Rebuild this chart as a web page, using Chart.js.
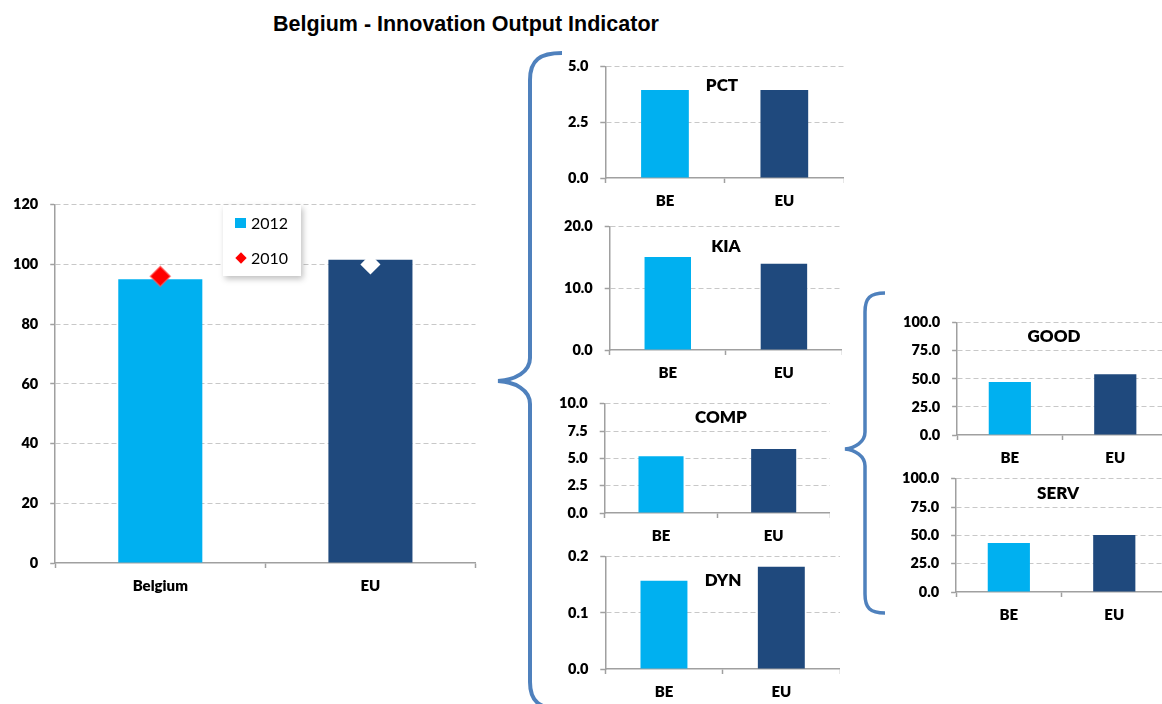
<!DOCTYPE html>
<html>
<head>
<meta charset="utf-8">
<script src="https://cdn.jsdelivr.net/npm/chart.js@4.4.0/dist/chart.umd.min.js"></script>
<style>
  body { margin: 0; width: 1162px; height: 704px; overflow: hidden; background: #fff; position: relative; font-family: Lato, sans-serif; }
  canvas { position: absolute; }
  #title { position: absolute; left: 0; width: 932px; top: 12px; line-height: 24px; text-align: center; font: bold 21.5px "Liberation Sans", Arial, sans-serif; color: #000; }
  .panelTitle { position: absolute; transform: translate(-50%, -50%); font: 800 17px Lato, sans-serif; line-height: 1; color: #000; white-space: nowrap; }
  #legend { position: absolute; left: 223px; top: 205px; width: 78px; height: 71px; background: #fff; box-shadow: 2px 3px 6px rgba(0,0,0,0.25); z-index: 5; }
  .legItem { position: absolute; left: 12px; font: 16px Lato, sans-serif; color: #000; line-height: 1; }
  .legItem span { position: absolute; left: 16px; top: -8px; }
  #braces { position: absolute; left: 0; top: 0; }
</style>
</head>
<body>
<div id="title">Belgium - Innovation Output Indicator</div>

<svg id="braces" width="1162" height="704">
  <path d="M 562 53 C 540 53, 530 60, 530 80 L 530 358 C 530 372, 515 380, 498 381 C 515 382, 530 390, 530 404 L 530 682 C 530 702, 540 709, 562 709" fill="none" stroke="#4F81BD" stroke-width="4"/>
  <path d="M 885 293 C 870 293, 865 298, 865 312 L 865 432 C 865 442, 855 448, 845 449 C 855 450, 865 456, 865 466 L 865 594 C 865 608, 870 613, 885 613" fill="none" stroke="#4F81BD" stroke-width="3.5"/>
</svg>

<canvas id="mainChart"></canvas>
<canvas id="pctChart"></canvas>
<canvas id="kiaChart"></canvas>
<canvas id="compChart"></canvas>
<canvas id="dynChart"></canvas>
<canvas id="goodChart"></canvas>
<canvas id="servChart"></canvas>

<div id="legend">
  <div class="legItem" style="top:18px"><div style="position:absolute;left:0;top:-5px;width:11px;height:10px;background:#00B0F0"></div><span>2012</span></div>
  <div class="legItem" style="top:53px"><div style="position:absolute;left:2px;top:-4px;width:8px;height:8px;background:#FF0000;transform:rotate(45deg)"></div><span>2010</span></div>
</div>

<div class="panelTitle" style="left:722px;top:84px">PCT</div>
<div class="panelTitle" style="left:726px;top:245px">KIA</div>
<div class="panelTitle" style="left:721px;top:416px">COMP</div>
<div class="panelTitle" style="left:723px;top:579px">DYN</div>
<div class="panelTitle" style="left:1054px;top:335px">GOOD</div>
<div class="panelTitle" style="left:1058px;top:492px">SERV</div>

<script>
// main chart
const mainCategories = ["Belgium", "EU"];
const main2012 = [95, 101.6];
const main2010 = [96, 100];
const mainTicks = [0, 20, 40, 60, 80, 100, 120];

// small panels
const panelCategories = ["BE", "EU"];
const pctValues = [3.95, 3.95];
const kiaValues = [15.1, 14.0];
const compValues = [5.2, 5.85];
const dynValues = [0.157, 0.182];
const goodValues = [47.2, 54.0];
const servValues = [43.2, 50.3];

const pctTicks = [0, 2.5, 5];
const kiaTicks = [0, 10, 20];
const compTicks = [0, 2.5, 5, 7.5, 10];
const dynTicks = [0, 0.1, 0.2];
const goodTicks = [0, 25, 50, 75, 100];
const servTicks = [0, 25, 50, 75, 100];

const LIGHT = "#00B0F0";
const DARK = "#1F497D";
const AXIS = "#A0A0A0";
const GRID = "#C8C8C8";

Chart.defaults.font.family = "Lato, sans-serif";
Chart.defaults.font.weight = "800";
Chart.defaults.font.size = 14;
Chart.defaults.color = "#000";
Chart.defaults.animation = false;

function setCanvas(canvas, left, top, w, h) {
  w = Math.round(w); h = Math.round(h);
  canvas.width = w;
  canvas.height = h;
  canvas.style.left = left + "px";
  canvas.style.top = top + "px";
  canvas.style.width = w + "px";
  canvas.style.height = h + "px";
}

// draw once, look where the plot area ended up, then redraw so it sits on box
function buildOnBox(id, box, makeConfig) {
  const canvas = document.getElementById(id);
  let w = box.right - box.left + 80, h = box.bottom - box.top + 60;
  setCanvas(canvas, box.left - 60, box.top - 20, w, h);
  let chart = new Chart(canvas, makeConfig());
  const a = chart.chartArea;
  const left = box.left - a.left, top = box.top - a.top;
  w = w + (box.right - box.left) - (a.right - a.left);
  h = h + (box.bottom - box.top) - (a.bottom - a.top);
  chart.destroy();
  setCanvas(canvas, left, top, w, h);
  return new Chart(canvas, makeConfig());
}

function axes(ticks, digits) {
  return {
    x: {
      offset: true,
      grid: { display: true, drawOnChartArea: false, drawTicks: true, tickLength: 5, tickColor: AXIS, tickWidth: 1.5, offset: true },
      border: { display: true, color: AXIS, width: 1.5 },
      ticks: { padding: 9, font: { size: 15 } }
    },
    y: {
      min: ticks[0],
      max: ticks[ticks.length - 1],
      grid: {
        color: c => (c.tick && c.tick.value === ticks[0]) ? "rgba(0,0,0,0)" : GRID,
        lineWidth: 1,
        drawTicks: true, tickLength: 5, tickColor: AXIS, tickWidth: 1.5, tickBorderDash: []
      },
      border: { display: true, color: AXIS, width: 1.5, dash: [5, 3] },
      ticks: {
        stepSize: ticks[1] - ticks[0],
        padding: 12,
        font: { size: 14.5 },
        callback: v => Number(v).toFixed(digits)
      }
    }
  };
}

function panel(id, values, ticks, box) {
  buildOnBox(id, box, () => ({
    type: "bar",
    data: {
      labels: panelCategories,
      datasets: [{
        data: values,
        backgroundColor: [LIGHT, DARK],
        categoryPercentage: 1,
        barPercentage: 0.4
      }]
    },
    options: {
      responsive: false,
      plugins: { legend: { display: false }, tooltip: { enabled: false } },
      scales: axes(ticks, 1)
    }
  }));
}

buildOnBox("mainChart", { left: 55, top: 205, right: 475, bottom: 563 }, () => ({
  type: "bar",
  data: {
    labels: mainCategories,
    datasets: [
      {
        type: "line",
        label: "2010",
        data: main2010,
        showLine: false,
        pointStyle: "rectRot",
        pointRadius: [10, 9],
        pointBackgroundColor: ["#FF0000", "#FFFFFF"],
        pointBorderColor: ["rgba(255,90,90,0.6)", "#FFFFFF"],
        pointBorderWidth: 1.5,
        order: 0
      },
      {
        label: "2012",
        data: main2012,
        backgroundColor: [LIGHT, DARK],
        categoryPercentage: 1,
        barPercentage: 0.4,
        order: 1
      }
    ]
  },
  options: {
    responsive: false,
    plugins: { legend: { display: false }, tooltip: { enabled: false } },
    scales: axes(mainTicks, 0)
  }
}));

panel("pctChart", pctValues, pctTicks, { left: 605, top: 67, right: 844, bottom: 178 });
panel("kiaChart", kiaValues, kiaTicks, { left: 610, top: 227, right: 842, bottom: 350 });
panel("compChart", compValues, compTicks, { left: 605, top: 404, right: 830, bottom: 513 });
panel("dynChart", dynValues, dynTicks, { left: 605, top: 557, right: 840, bottom: 669 });
panel("goodChart", goodValues, goodTicks, { left: 957, top: 323, right: 1168, bottom: 435 });
panel("servChart", servValues, servTicks, { left: 956, top: 479, right: 1167, bottom: 592 });
</script>
</body>
</html>
